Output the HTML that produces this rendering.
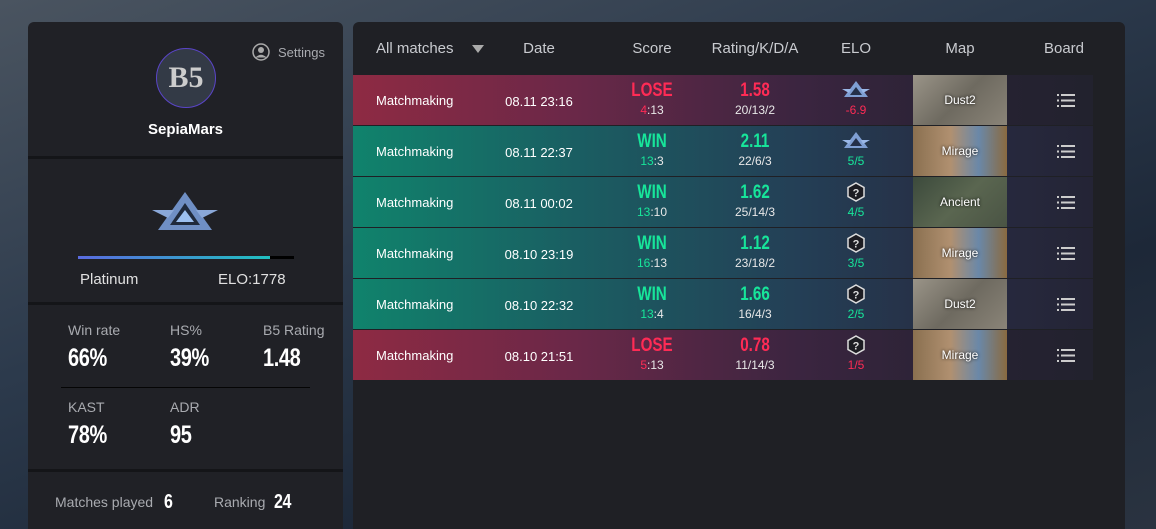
<!DOCTYPE html>
<html style="width:1156px;height:529px;overflow:hidden;background:#2a3442"><head><meta charset="utf-8"><style>
*{box-sizing:border-box;margin:0;padding:0}
body{width:1156px;height:529px;overflow:hidden;font-family:"Liberation Sans",sans-serif;background:linear-gradient(160deg,#4a5460 0%,#2c3a4c 40%,#1d2838 70%,#2a3340 100%);position:relative;color:#fff}
.panel{position:absolute;background:#202126;border-radius:6px 6px 0 0}
#left{left:28px;top:22px;width:315px;height:507px}
#right{left:353px;top:22px;width:772px;height:507px;background:#1f2025}
.div{position:absolute;left:0;width:315px;height:3px;background:#141518}
.lbl{position:absolute;font-size:14px;color:#a9abb0}
.big{position:absolute;font-weight:bold;font-size:25px;color:#fff;transform:scaleX(0.8);transform-origin:left;letter-spacing:-0.5px}
.hdr{position:absolute;top:18px;font-size:15px;color:#c9cbd0;transform:translateX(-50%)}
.row{position:absolute;left:0;width:740px;height:50px}
.lose{background:linear-gradient(90deg,#8e2a43 0%,#6a2848 30%,#3b2540 60%,#262232 85%,#22222e 100%)}
.win{background:linear-gradient(90deg,#10836c 0%,#1a5e62 30%,#243f56 60%,#272a40 85%,#242435 100%)}
.c{position:absolute;transform:translateX(-50%);text-align:center;white-space:nowrap}
.res{font-weight:bold;font-size:19px;top:5px;transform:translateX(-50%) scaleX(0.8)}
.sub{font-size:12px;top:28px;color:#e8e8e8}
.map{position:absolute;left:560px;top:0;width:94px;height:50px;display:flex;align-items:center;justify-content:center;font-size:12px;color:#fff;text-shadow:0 0 3px #000}
.board{position:absolute;left:704px;top:19px;width:18px;height:13px}
</style></head><body>
<div id="left" class="panel">
  <div style="position:absolute;left:224px;top:21px;font-size:13px;color:#a9abb0;display:flex;align-items:center;gap:8px"><svg width="18" height="18" viewBox="0 0 18 18"><circle cx="9" cy="9" r="8" fill="none" stroke="#aaa" stroke-width="1.5"/><circle cx="9" cy="7" r="3" fill="#aaa"/><path d="M3.5 14.5 Q9 9 14.5 14.5" fill="#aaa"/></svg>Settings</div>
  <div style="position:absolute;left:128px;top:26px;width:60px;height:60px;border-radius:50%;border:1px solid #5a45c8;background:#333a46;color:#ccc;font-weight:bold;font-size:30px;display:flex;align-items:center;justify-content:center;font-family:'Liberation Serif',serif">B5</div>
  <div style="position:absolute;left:0;width:315px;top:99px;text-align:center;font-weight:bold;font-size:15px">SepiaMars</div>
  <div class="div" style="top:134px"></div>
  <svg style="position:absolute;left:124px;top:168px" width="66" height="42" viewBox="0 0 66 42"><path d="M33 2 L60 40 H6 Z" fill="#6f8fc4"/><path d="M33 13 L48 35 H18 Z" fill="#1f2a3c"/><path d="M33 20 L42 32 H24 Z" fill="#9cc0f0"/><path d="M0 20 H22 L16 28 Z M66 20 H44 L50 28 Z" fill="#8aa8d8"/></svg>
  <div style="position:absolute;left:50px;top:234px;width:216px;height:3px;background:#000"><div style="width:192px;height:3px;background:linear-gradient(90deg,#5a6be0,#20c0c0)"></div></div>
  <div style="position:absolute;left:52px;top:249px;font-size:15px;color:#e0e0e0">Platinum</div>
  <div style="position:absolute;left:190px;top:249px;font-size:15px;color:#e0e0e0">ELO:1778</div>
  <div class="div" style="top:280px"></div>
  <div class="lbl" style="left:40px;top:300px">Win rate</div>
  <div class="big" style="left:40px;top:322px">66%</div>
  <div class="lbl" style="left:142px;top:300px">HS%</div>
  <div class="big" style="left:142px;top:322px">39%</div>
  <div class="lbl" style="left:235px;top:300px">B5 Rating</div>
  <div class="big" style="left:235px;top:322px">1.48</div>
  <div style="position:absolute;left:33px;top:365px;width:249px;height:1px;background:#050505"></div>
  <div class="lbl" style="left:40px;top:377px">KAST</div>
  <div class="big" style="left:40px;top:399px">78%</div>
  <div class="lbl" style="left:142px;top:377px">ADR</div>
  <div class="big" style="left:142px;top:399px">95</div>
  <div class="div" style="top:447px"></div>
  <div class="lbl" style="left:27px;top:472px">Matches played</div>
  <div class="big" style="left:136px;top:469px;font-size:20px">6</div>
  <div class="lbl" style="left:186px;top:472px">Ranking</div>
  <div class="big" style="left:246px;top:469px;font-size:20px">24</div>
</div>
<div id="right" class="panel">
  <div style="position:absolute;left:23px;top:18px;font-size:15px;color:#c9cbd0">All matches <span style="display:inline-block;margin-left:14px;width:0;height:0;border-left:6px solid transparent;border-right:6px solid transparent;border-top:8px solid #aaa;vertical-align:middle"></span></div>
  <div class="hdr" style="left:186px">Date</div>
  <div class="hdr" style="left:299px">Score</div>
  <div class="hdr" style="left:402px">Rating/K/D/A</div>
  <div class="hdr" style="left:503px">ELO</div>
  <div class="hdr" style="left:607px">Map</div>
  <div class="hdr" style="left:711px">Board</div>
  <div id="rows"></div>
</div>
<script>
const results=["LOSE","WIN","WIN","WIN","WIN","LOSE"];
const dates=["08.11 23:16","08.11 22:37","08.11 00:02","08.10 23:19","08.10 22:32","08.10 21:51"];
const myScore=[4,13,13,16,13,5];
const oppScore=[13,3,10,13,4,13];
const ratings=["1.58","2.11","1.62","1.12","1.66","0.78"];
const kda=["20/13/2","22/6/3","25/14/3","23/18/2","16/4/3","11/14/3"];
const elo=["-6.9","5/5","4/5","3/5","2/5","1/5"];
const ranked=[true,true,false,false,false,false];
const maps=["Dust2","Mirage","Ancient","Mirage","Dust2","Mirage"];
const mapBg={Dust2:"linear-gradient(135deg,#9a9488,#6e6a60 50%,#8a8478)",Mirage:"linear-gradient(90deg,#8a7050,#b09070 40%,#6a88a8 70%,#8a6a40)",Ancient:"linear-gradient(135deg,#3c4a3c,#5a6650 50%,#4a5444)"};
const rowsEl=document.getElementById('rows');
results.forEach((r,i)=>{
  const win=r==="WIN";const col=win?"#17e59a":"#ff2b55";
  const d=document.createElement('div');
  d.className='row '+(win?'win':'lose');
  d.style.top=(53+i*51)+'px';
  
  
  const badge=ranked[i]?'<svg width="28" height="18" viewBox="0 0 28 18"><path d="M14 1 L26 17 H2 Z" fill="#7f9fd4"/><path d="M14 7 L20 15 H8 Z" fill="#24304a"/><path d="M0 9 H9 L7 13 Z M28 9 H19 L21 13 Z" fill="#9ab8e8"/></svg>':'<svg width="20" height="20" viewBox="0 0 20 20"><path d="M10 1 L18 5.5 V14.5 L10 19 L2 14.5 V5.5 Z" fill="#1c1c22" stroke="#ddd" stroke-width="1.5"/><text x="10" y="14.5" font-size="11" font-weight="bold" text-anchor="middle" fill="#ddd" font-family="Liberation Sans">?</text></svg>';
  d.innerHTML=
   '<div style="position:absolute;left:23px;top:18px;font-size:13px">Matchmaking</div>'+
   '<div class="c" style="left:186px;top:19px;font-size:13px">'+dates[i]+'</div>'+
   '<div class="c res" style="left:299px;color:'+col+'">'+r+'</div>'+
   '<div class="c sub" style="left:299px"><span style="color:'+col+'">'+myScore[i]+'</span>:'+oppScore[i]+'</div>'+
   '<div class="c res" style="left:402px;color:'+col+'">'+ratings[i]+'</div>'+
   '<div class="c sub" style="left:402px">'+kda[i]+'</div>'+
   '<div class="c" style="left:503px;top:5px">'+badge+'</div>'+
   '<div class="c sub" style="left:503px;color:'+col+'">'+elo[i]+'</div>'+
   '<div class="map" style="background:'+mapBg[maps[i]]+'">'+maps[i]+'</div>'+
   '<svg class="board" viewBox="0 0 18 13"><g fill="#ccc"><rect x="0" y="0" width="2" height="2"/><rect x="4" y="0" width="14" height="2"/><rect x="0" y="5.5" width="2" height="2"/><rect x="4" y="5.5" width="14" height="2"/><rect x="0" y="11" width="2" height="2"/><rect x="4" y="11" width="14" height="2"/></g></svg>';
  rowsEl.appendChild(d);
});
</script>
</body></html>
